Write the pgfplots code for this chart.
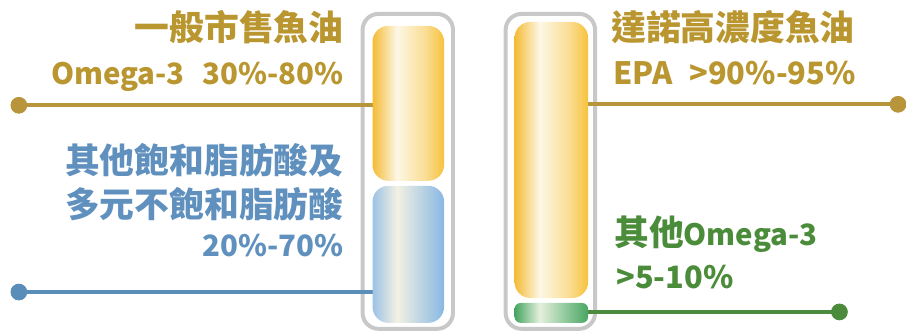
\documentclass[border=0pt]{standalone}
\usepackage{fontspec}
\setmainfont{Noto Sans CJK TC}
\usepackage{pgfplots}
\pgfplotsset{compat=1.18}
\definecolor{goldtxt}{HTML}{B9962F}
\definecolor{goldln}{HTML}{B8953A}
\definecolor{bluetxt}{HTML}{6091BE}
\definecolor{blueln}{HTML}{5B8DB9}
\definecolor{greentxt}{HTML}{4A8C3A}
\definecolor{greenln}{HTML}{4B8B3B}
\definecolor{frame}{HTML}{C8C8C8}
\definecolor{y1}{HTML}{F4BB35}
\definecolor{y2}{HTML}{FDF7E6}
\definecolor{y3}{HTML}{F6C23C}
\definecolor{b1}{HTML}{9CC2E6}
\definecolor{b2}{HTML}{F3F1E2}
\definecolor{b3}{HTML}{88B8E4}
\definecolor{g1}{HTML}{45A560}
\definecolor{g2}{HTML}{E4F0DD}
\definecolor{g3}{HTML}{48A662}
\pgfdeclarehorizontalshading{goldshade}{100bp}{color(0bp)=(y1); color(25bp)=(y1); color(42bp)=(y2); color(62bp)=(y3!55!white); color(75bp)=(y3); color(100bp)=(y3)}
\pgfdeclarehorizontalshading{blueshade}{100bp}{color(0bp)=(b1); color(25bp)=(b1); color(42bp)=(b2); color(75bp)=(b3); color(100bp)=(b3)}
\pgfdeclarehorizontalshading{greenshade}{100bp}{color(0bp)=(g1); color(25bp)=(g1); color(42bp)=(g2); color(75bp)=(g3); color(100bp)=(g3)}
\newcommand\cjkf{\bfseries\fontsize{17.5pt}{20pt}\selectfont}
\newcommand\latf{\bfseries\fontsize{15.5pt}{20pt}\selectfont}
\newcommand\latg{\bfseries\fontsize{14.8pt}{20pt}\selectfont}
\begin{document}
\begin{tikzpicture}
\begin{axis}[
  x=0.5pt, y=0.5pt, scale only axis,
  xmin=0, xmax=906, ymin=0, ymax=333, y dir=reverse,
  hide axis, clip=true,
]
\path (axis cs:0,0) rectangle (axis cs:906,333);
% containers
\addplot[draw=frame, line width=2pt, rounded corners=8pt] coordinates {(365,14) (456,14) (456,331) (365,331)} -- cycle;
\addplot[draw=frame, line width=2pt, rounded corners=8pt] coordinates {(509,14) (599,14) (599,331) (509,331)} -- cycle;
% leader lines
\addplot[goldln, line width=1.9pt] coordinates {(19,106) (378,106)};
\addplot[blueln, line width=1.9pt] coordinates {(19,294) (378,294)};
\addplot[goldln, line width=1.9pt] coordinates {(590,105) (904,105)};
\addplot[greenln, line width=1.9pt] coordinates {(590,314) (845,314)};
\addplot[only marks, mark=*, mark size=4pt, goldln] coordinates {(19,106)};
\addplot[only marks, mark=*, mark size=4pt, blueln] coordinates {(19,294)};
\addplot[only marks, mark=*, mark size=4pt, goldln] coordinates {(904,105)};
\addplot[only marks, mark=*, mark size=4pt, greenln] coordinates {(845,314)};
% bars
\addplot[draw=none, shade, shading=goldshade, rounded corners=8pt] coordinates {(375,26) (447,26) (447,182) (375,182)} -- cycle;
\addplot[draw=none, shade, shading=blueshade, rounded corners=8pt] coordinates {(375,187) (447,187) (447,325) (375,325)} -- cycle;
\addplot[draw=none, shade, shading=goldshade, rounded corners=8pt] coordinates {(518,22) (592,22) (592,300) (518,300)} -- cycle;
\addplot[draw=none, shade, shading=greenshade, rounded corners=3pt] coordinates {(518,305) (592,305) (592,325) (518,325)} -- cycle;
% texts
\node[anchor=base east, inner sep=0pt, text=goldtxt, font=\cjkf] at (axis cs:346,41) {一般市售魚油};
\node[anchor=base east, inner sep=0pt, text=goldtxt, font=\latg] at (axis cs:346,85) {Omega-3\hspace{0.6em}30\%-80\%};
\node[anchor=base east, inner sep=0pt, text=bluetxt, font=\cjkf] at (axis cs:346,175) {其他飽和脂肪酸及};
\node[anchor=base east, inner sep=0pt, text=bluetxt, font=\cjkf] at (axis cs:346,219) {多元不飽和脂肪酸};
\node[anchor=base east, inner sep=0pt, text=bluetxt, font=\latg] at (axis cs:346,258) {20\%-70\%};
\node[anchor=base west, inner sep=0pt, text=goldtxt, font=\cjkf] at (axis cs:615,41) {達諾高濃度魚油};
\node[anchor=base west, inner sep=0pt, text=goldtxt, font=\latf] at (axis cs:617,85) {EPA\hspace{0.55em}>90\%-95\%};
\node[anchor=base west, inner sep=0pt, text=greentxt, font=\cjkf] at (axis cs:618,247) {其他{\latg Omega-3}};
\node[anchor=base west, inner sep=0pt, text=greentxt, font=\latf] at (axis cs:620,290) {>5-10\%};
\end{axis}
\end{tikzpicture}
\end{document}
